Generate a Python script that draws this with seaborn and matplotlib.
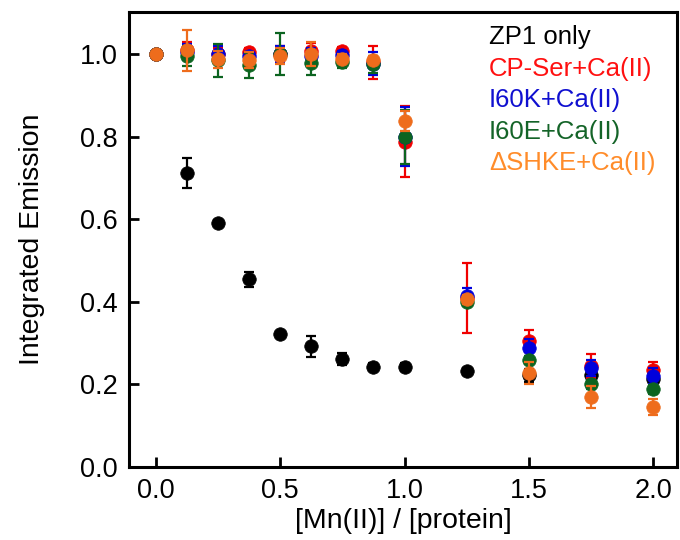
import numpy as np
import pandas as pd
import matplotlib
matplotlib.use("Agg")
import matplotlib.pyplot as plt
import seaborn as sns

# Mn(II) titration of ZP1 emission
ratio = [0.0, 0.125, 0.25, 0.375, 0.5, 0.625, 0.75, 0.875, 1.0, 1.25, 1.5, 1.75, 2.0]

zp1 = [1.0, 0.712, 0.591, 0.455, 0.322, 0.292, 0.262, 0.243, 0.243, 0.232, 0.222, 0.223, 0.213]
zp1_err = [0.0, 0.037, 0.006, 0.018, 0.006, 0.025, 0.015, 0.008, 0.01, 0.008, 0.015, 0.01, 0.01]

cp_ser = [1.0, 1.01, 1.0, 1.005, 1.0, 1.007, 1.007, 0.98, 0.788, 0.41, 0.305, 0.245, 0.235]
cp_ser_err = [0.0, 0.02, 0.015, 0.01, 0.02, 0.02, 0.01, 0.04, 0.085, 0.085, 0.027, 0.03, 0.02]

i60k = [1.0, 1.005, 1.0, 0.995, 1.0, 0.995, 0.998, 0.977, 0.80, 0.414, 0.289, 0.24, 0.22]
i60k_err = [0.0, 0.02, 0.02, 0.01, 0.02, 0.02, 0.01, 0.027, 0.072, 0.02, 0.02, 0.02, 0.02]

i60e = [1.0, 0.995, 0.985, 0.973, 1.0, 0.979, 0.981, 0.975, 0.799, 0.40, 0.26, 0.20, 0.188]
i60e_err = [0.0, 0.025, 0.04, 0.03, 0.05, 0.03, 0.015, 0.02, 0.065, 0.01, 0.01, 0.01, 0.01]

dshke = [1.0, 1.009, 0.987, 0.985, 0.995, 1.0, 0.989, 0.985, 0.838, 0.406, 0.228, 0.17, 0.145]
dshke_err = [0.0, 0.05, 0.02, 0.02, 0.02, 0.03, 0.01, 0.01, 0.025, 0.01, 0.027, 0.027, 0.02]

series = ["ZP1 only", "CP-Ser+Ca(II)", "I60K+Ca(II)", "I60E+Ca(II)", "\u0394SHKE+Ca(II)"]
values = [zp1, cp_ser, i60k, i60e, dshke]
errors = [zp1_err, cp_ser_err, i60k_err, i60e_err, dshke_err]
marker_colors = ["#000000", "#f00000", "#0000dc", "#0c6420", "#ee6c1c"]
text_colors = ["#000000", "#ff1010", "#1010d0", "#146428", "#ff8c2a"]

df = pd.concat(
    [pd.DataFrame({"ratio": ratio, "emission": v, "err": e, "sample": s})
     for s, v, e in zip(series, values, errors)],
    ignore_index=True,
)

sns.set_style("ticks", {"axes.edgecolor": "black", "text.color": "black",
                        "xtick.color": "black", "ytick.color": "black",
                        "axes.labelcolor": "black"})
plt.rcParams["font.family"] = ["Liberation Sans", "DejaVu Sans"]

fig = plt.figure(figsize=(6.8, 5.4), dpi=100)
ax = fig.add_axes([0.19, 0.135, 0.805, 0.843])

for i, (s, col) in enumerate(zip(series, marker_colors)):
    sub = df[df["sample"] == s]
    ax.errorbar(sub["ratio"], sub["emission"], yerr=sub["err"], fmt="none",
                ecolor=col, elinewidth=1.6, capsize=3.3, capthick=1.6,
                zorder=2 + 2 * i)
    sns.scatterplot(data=sub, x="ratio", y="emission", color=col, s=95,
                    edgecolor=col, linewidth=0.5, ax=ax, zorder=3 + 2 * i,
                    legend=False)

ax.set_xlim(-0.106, 2.093)
ax.set_ylim(0.0, 1.102)
ax.set_xticks([0.0, 0.5, 1.0, 1.5, 2.0])
ax.set_yticks([0.0, 0.2, 0.4, 0.6, 0.8, 1.0])
ax.xaxis.set_major_formatter(matplotlib.ticker.FormatStrFormatter("%.1f"))
ax.yaxis.set_major_formatter(matplotlib.ticker.FormatStrFormatter("%.1f"))
ax.tick_params(direction="in", length=7, width=2, labelsize=19.5, pad=8,
               top=False, right=False, colors="black")
for sp in ax.spines.values():
    sp.set_linewidth(2.2)
    sp.set_color("black")
    sp.set_visible(True)

ax.set_xlabel("[Mn(II)] / [protein]", fontsize=20.5, labelpad=3, color="black")
ax.set_ylabel("Integrated Emission", fontsize=20.5, labelpad=25, color="black")

# colored text legend
for i, (s, tc) in enumerate(zip(series, text_colors)):
    ax.text(0.657, 0.945 - i * 0.0695, s, transform=ax.transAxes, color=tc,
            fontsize=18.5, ha="left", va="center")

fig.savefig("out.png", dpi=100)
